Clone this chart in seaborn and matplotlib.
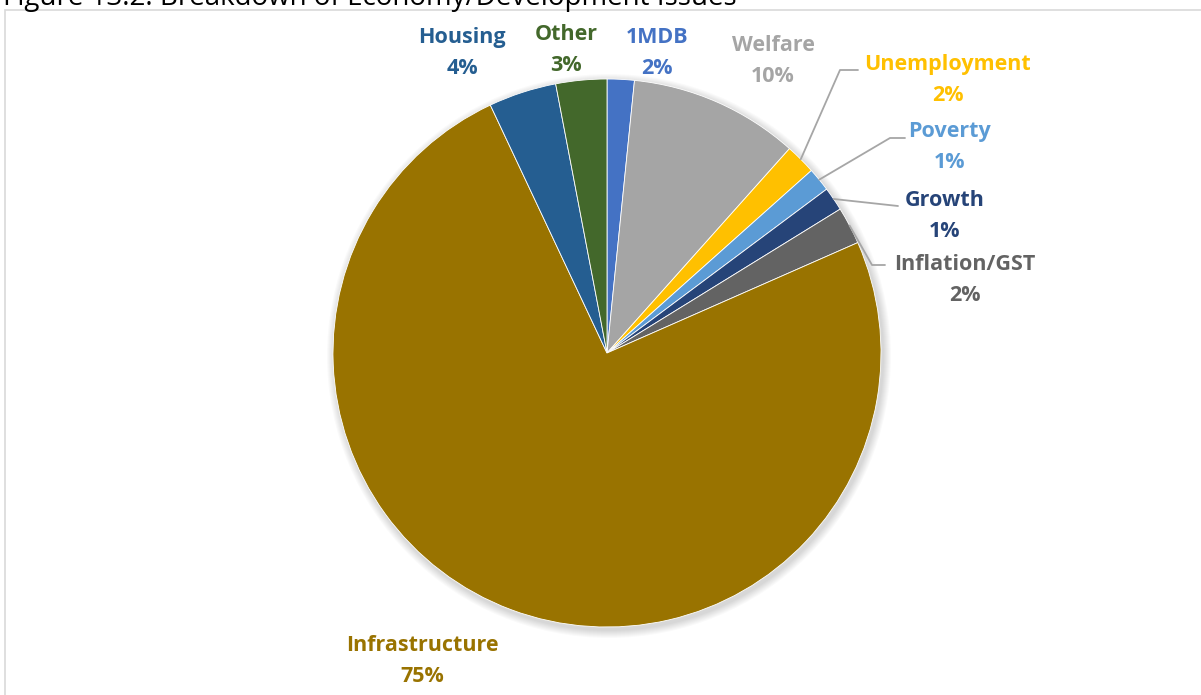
import numpy as np
import matplotlib.pyplot as plt
import matplotlib.patches as mpatches
import seaborn as sns

# ── data ───────────────────────────────────────────
issues = ['1MDB', 'Welfare', 'Unemployment', 'Poverty', 'Growth',
          'Inflation/GST', 'Infrastructure', 'Housing', 'Other']
shares = [1.6, 10.0, 1.8, 1.4, 1.4, 2.2, 74.6, 4.0, 3.0]
colors = ['#4472C4', '#A5A5A5', '#FFC000', '#5B9BD5', '#264478',
          '#636363', '#997300', '#255E91', '#43682B']

# label layout in pixels (x, y from top), leader elbow if any
label_pos = {
    '1MDB': (657, 53), 'Welfare': (773, 61), 'Unemployment': (948, 80),
    'Poverty': (950, 147), 'Growth': (945, 216), 'Inflation/GST': (965, 280),
    'Infrastructure': (422, 661), 'Housing': (462, 53), 'Other': (566, 50),
}
leaders = {
    'Unemployment': [(840, 70), (858, 70)],
    'Poverty': [(890, 138), (905, 138)],
    'Growth': [(898, 206)],
    'Inflation/GST': [(872, 265), (885, 265)],
}

W, H = 1201, 695
cx, cy, R = 607, 353, 274

sns.set_theme(style='white')
plt.rcParams['font.family'] = ['Open Sans', 'DejaVu Sans']

fig = plt.figure(figsize=(W / 100, H / 100), dpi=100)
ax = fig.add_axes([0, 0, 1, 1])

# soft shadow
for k in range(8):
    ax.add_patch(mpatches.Circle((cx + 2, H - cy - 3), R + 1 + k, color='black',
                                 alpha=0.018, lw=0, zorder=0))

wedges, _ = ax.pie(shares, colors=sns.color_palette(colors), startangle=90,
                   counterclock=False, radius=R, center=(cx, H - cy),
                   frame=True, wedgeprops=dict(edgecolor='white', linewidth=0.6))

for w, name, val, col in zip(wedges, issues, shares, colors):
    lx, ly = label_pos[name]
    ax.text(lx, H - ly, f'{name}\n{val:.0f}%', color=col, fontsize=15.5,
            fontweight='bold', ha='center', va='center', linespacing=1.65)
    if name in leaders:
        mid = np.deg2rad((w.theta1 + w.theta2) / 2)
        px = [cx + R * np.cos(mid)] + [p[0] for p in leaders[name]]
        py = [H - cy + R * np.sin(mid)] + [H - p[1] for p in leaders[name]]
        ax.plot(px, py, color='#A6A6A6', lw=1.3, zorder=5)

ax.set_xlim(0, W)
ax.set_ylim(0, H)
ax.set_aspect('equal')
ax.axis('off')

# chart area border (runs off the right and bottom edges)
fig.patches.append(mpatches.Rectangle((5 / W, -0.1), 1.2, 1 - 10 / H + 0.1,
                                      transform=fig.transFigure, fill=False,
                                      edgecolor='#D9D9D9', lw=1.2))

# title, mostly cut off at the top
fig.text(3 / W, 1 - 5 / H, 'Figure 13.2: Breakdown of Economy/Development Issues',
         fontsize=20, color='black', ha='left', va='baseline')

fig.savefig('out.png', dpi=100)
